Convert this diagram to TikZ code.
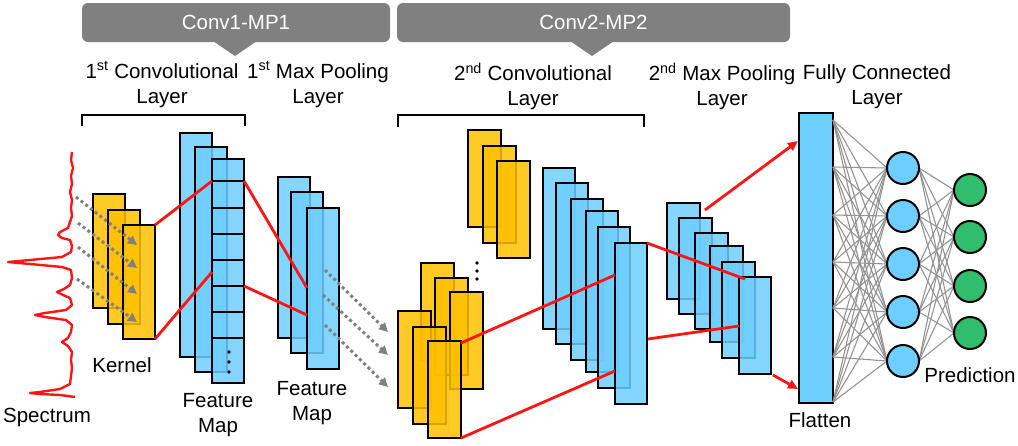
\documentclass[tikz,border=0pt]{standalone}
\usepackage{fontspec}
\setmainfont{Liberation Sans}
\usetikzlibrary{arrows.meta,calc}
\definecolor{kblue}{RGB}{110,206,255}
\definecolor{korange}{RGB}{255,192,0}
\definecolor{kgreen}{RGB}{48,190,110}
\definecolor{kgray}{RGB}{128,128,128}
\definecolor{kred}{RGB}{255,20,20}
\begin{document}
\begin{tikzpicture}[x=1pt,y=-1pt,
  lay/.style={draw=black, line width=2pt, fill opacity=0.85, inner sep=0pt, outer sep=0pt, anchor=north west},
  kern/.style={lay, fill=korange},
  fmap/.style={lay, fill=kblue},
  sz/.style 2 args={minimum width=#1pt, minimum height=#2pt},
  neuron/.style={circle, draw=black, line width=2pt, minimum size=32pt, inner sep=0pt},
  redline/.style={draw=kred, line width=2.8pt},
  redarrow/.style={redline, -{Triangle[length=10pt,width=9pt]}},
  dotarrow/.style={draw=kgray, line width=3pt, dash pattern=on 3pt off 3pt, -{Triangle[length=9pt,width=9pt]}},
  fc/.style={draw=kgray!85, line width=1.1pt},
  lbl/.style={font=\fontsize{20.5}{25}\selectfont, align=center, inner sep=0pt},
  banner/.style={fill=kgray, rounded corners=6pt, inner sep=0pt, text=white, font=\fontsize{20.5}{24}\selectfont},
  bracket/.style={draw=black, line width=2pt}
]
\useasboundingbox (0,0) rectangle (1018,445);

% ---------- banners ----------
\node[banner, minimum width=308pt, minimum height=39pt] (b1) at (236,22.5) {Conv1-MP1};
\fill[kgray] (213,41) -- (257,41) -- (235,56) -- cycle;
\node[banner, minimum width=393pt, minimum height=39pt] (b2) at (593.5,22.5) {Conv2-MP2};
\fill[kgray] (570,41) -- (614,41) -- (592,56) -- cycle;

% ---------- header labels ----------
\node[lbl] (l1) at (162,84.5) {1\textsuperscript{st} Convolutional\\Layer};
\node[lbl] (l2) at (318,84.5) {1\textsuperscript{st} Max Pooling\\Layer};
\node[lbl] (l3) at (533,86.5) {2\textsuperscript{nd} Convolutional\\Layer};
\node[lbl] (l4) at (722,86.5) {2\textsuperscript{nd} Max Pooling\\Layer};
\node[lbl] (l5) at (877,86.5) {Fully Connected\\Layer};

% ---------- brackets ----------
\draw[bracket] (82,126) -- (82,115) -- (245,115) -- (245,126);
\draw[bracket] (398,127) -- (398,115) -- (644,115) -- (644,127);

% ---------- spectrum ----------
\draw[kred, line width=2.4pt, line join=round] (72,152) -- (71,160) -- (73,168) -- (71,176) -- (72,184) -- (70,192) -- (72,200) -- (71,208) -- (72,216) -- (70,222) -- (68,228) -- (60,232) -- (58,235) -- (62,238) -- (70,240) -- (72,246) -- (71,252) -- (62,257) -- (30,260) -- (8,262) -- (30,264) -- (62,267) -- (71,270) -- (72,278) -- (70,285) -- (64,289) -- (57,292) -- (63,295) -- (70,298) -- (72,305) -- (66,310) -- (45,313) -- (35,315) -- (45,317) -- (66,320) -- (72,325) -- (71,332) -- (68,338) -- (62,342) -- (68,346) -- (72,352) -- (71,360) -- (72,368) -- (71,376) -- (70,384) -- (60,389) -- (40,392) -- (30,393) -- (40,394) -- (60,395) -- (75,397);
\node[lbl] (spec) at (47,417) {Spectrum};

% ---------- conv1 kernels ----------
\node[kern, sz={32}{114}] (k11) at (93,194) {};
\node[kern, sz={32}{114}] (k12) at (108,210) {};
\node[kern, sz={32}{114}] (k13) at (123,225) {};
\node[lbl] (kl) at (122,365) {Kernel};

\coordinate (s1) at (76,197); \coordinate (t1) at (137,245);
\coordinate (s2) at (78,223); \coordinate (t2) at (137,268);
\coordinate (s3) at (78,247); \coordinate (t3) at (137,294);
\coordinate (s4) at (77,279); \coordinate (t4) at (137,322);
\foreach \i in {1,...,4} \draw[dotarrow] (s\i) -- (t\i);

% ---------- feature map 1 ----------
\node[fmap, sz={32}{224}] (f11) at (180,133) {};
\node[fmap, sz={32}{225}] (f12) at (195,147) {};
\node[fmap, sz={32}{224}] (f13) at (212,159) {};
\foreach \y in {181,208,234,260,286,312,338}
  \draw[black, line width=2pt] (f13.west |- 0,\y) -- (f13.east |- 0,\y);
\foreach \y in {352,362,372} \fill (229,\y) circle (1.9pt);
\node[lbl] (fl1) at (218,415) {Feature\\Map};

% ---------- max pool 1 ----------
\node[fmap, sz={32}{161}] (p11) at (278,177) {};
\node[fmap, sz={32}{161}] (p12) at (291,192) {};
\node[fmap, sz={32}{161}] (p13) at (307,208) {};
\node[lbl] (pl1) at (312,403) {Feature\\Map};

\coordinate (u1) at (325,270); \coordinate (v1) at (388,332);
\coordinate (u2) at (323,295); \coordinate (v2) at (388,355);
\coordinate (u3) at (325,325); \coordinate (v3) at (388,387);
\foreach \i in {1,2,3} \draw[dotarrow] (u\i) -- (v\i);

% ---------- conv2 kernels ----------
\node[kern, sz={33}{97}] (c21) at (468,130) {};
\node[kern, sz={33}{97}] (c22) at (483,146) {};
\node[kern, sz={33}{97}] (c23) at (497,161) {};
\foreach \y in {263,271,279} \fill (477,\y) circle (1.9pt);
\node[kern, sz={33}{97}] (c31) at (421,263) {};
\node[kern, sz={33}{97}] (c32) at (435,278) {};
\node[kern, sz={33}{97}] (c33) at (450,292) {};
\node[kern, sz={33}{97}] (c41) at (398,311) {};
\node[kern, sz={33}{97}] (c42) at (413,327) {};
\node[kern, sz={33}{97}] (c43) at (428,341) {};

% ---------- conv2 maps ----------
\node[fmap, sz={32}{161}] (g1) at (543,168) {};
\node[fmap, sz={32}{161}] (g2) at (556,183) {};
\node[fmap, sz={32}{161}] (g3) at (571,199) {};
\node[fmap, sz={32}{161}] (g4) at (586,211) {};
\node[fmap, sz={32}{161}] (g5) at (598,227) {};
\node[fmap, sz={32}{161}] (g6) at (615,243) {};

% ---------- max pool 2 ----------
\node[fmap, sz={33}{96}] (m1) at (667,203) {};
\node[fmap, sz={33}{96}] (m2) at (679,218) {};
\node[fmap, sz={33}{96}] (m3) at (695,233) {};
\node[fmap, sz={33}{96}] (m4) at (710,246) {};
\node[fmap, sz={33}{96}] (m5) at (722,262) {};
\node[fmap, sz={32}{97}] (m6) at (739,277) {};

% ---------- flatten and dense ----------
\node[fmap, fill opacity=1, sz={34}{290}] (fl) at (799,113) {};
\node[lbl] (fll) at (820,420) {Flatten};
\foreach \j/\y in {1/120,2/167,3/215,4/262,5/308,6/357,7/402}
  \coordinate (e\j) at (fl.east |- 0,\y);
\foreach \i/\y in {1/168,2/216,3/264,4/312,5/361}
  \coordinate (hc\i) at (903,\y);
\foreach \i/\y in {1/190,2/237,3/286,4/333}
  \coordinate (oc\i) at (970,\y);
\foreach \j in {1,...,7} \foreach \i in {1,...,5} \draw[fc] (e\j) -- ($(hc\i)+(-16,0)$);
\foreach \i in {1,...,5} \foreach \k in {1,...,4} \draw[fc] ($(hc\i)+(16,0)$) -- ($(oc\k)+(-16,0)$);
\foreach \i in {1,...,5}
  \node[neuron, fill=kblue] (h\i) at (hc\i) {};
\foreach \k in {1,...,4}
  \node[neuron, fill=kgreen] (o\k) at (oc\k) {};
\node[lbl] (pred) at (970,375) {Prediction};

% ---------- red connectors ----------
\coordinate (a1) at (212,181); \coordinate (a2) at (212,272);
\draw[redline] (k13.north east) -- (a1);
\draw[redline] (k13.south east) -- (a2);
\coordinate (a3) at (244,181); \coordinate (a4) at (307,288);
\coordinate (a5) at (244,286); \coordinate (a6) at (307,315);
\draw[redline] (a3) -- (a4);
\draw[redline] (a5) -- (a6);
\coordinate (b3) at (461,343); \coordinate (b4) at (615,275);
\coordinate (b6) at (615,371);
\draw[redline] (b3) -- (b4);
\draw[redline] (c43.south east) -- (b6);
\coordinate (d2) at (745,279); \coordinate (d3) at (648,339); \coordinate (d4) at (739,326);
\draw[redline] (g6.north east) -- (d2);
\draw[redline] (d3) -- (d4);
\coordinate (r1) at (705,210); \coordinate (r2) at (798,141);
\coordinate (r3) at (773,375); \coordinate (r4) at (798,389);
\draw[redarrow] (r1) -- (r2);
\draw[redarrow] (r3) -- (r4);
\end{tikzpicture}
\end{document}
